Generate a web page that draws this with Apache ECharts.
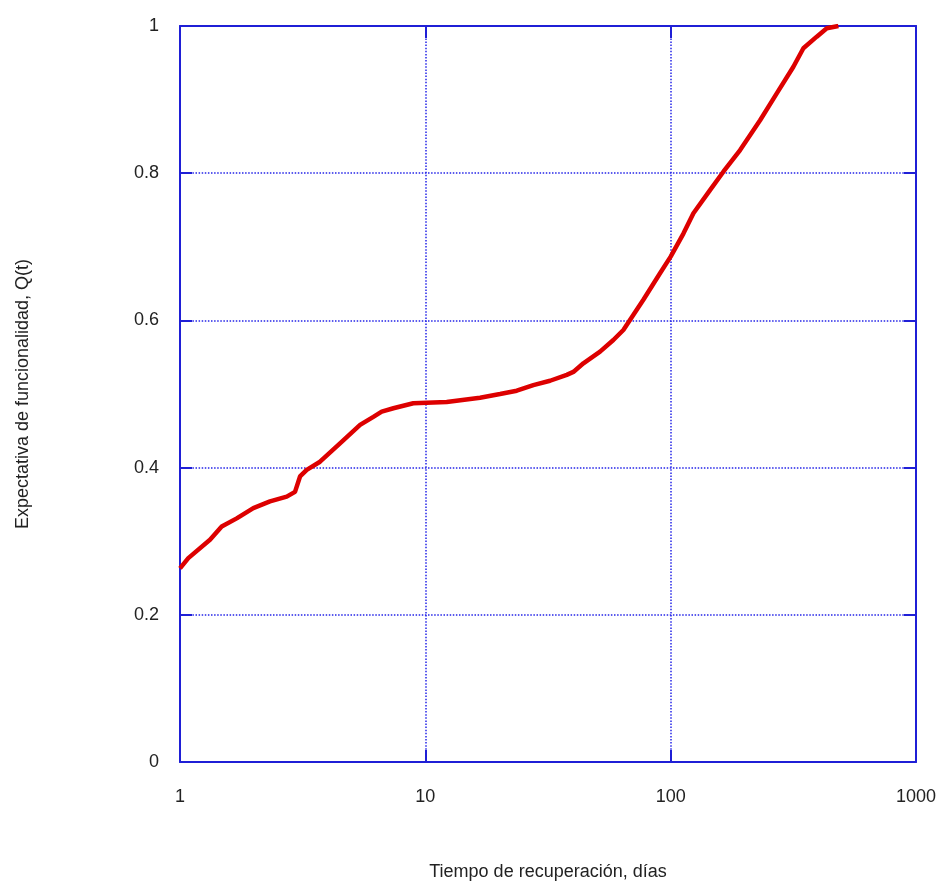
<!DOCTYPE html>
<html>
<head>
<meta charset="utf-8">
<script src="https://cdn.jsdelivr.net/npm/echarts@6/dist/echarts.min.js"></script>
<style>
  html, body { margin: 0; padding: 0; background: #fff; }
  #chart { width: 946px; height: 886px; }
</style>
</head>
<body>
<div id="chart"></div>
<script>
// Recovery time (days) and expected functionality Q(t)
const recoveryDays = [
  1.000, 1.081, 1.325, 1.479, 1.703, 1.990, 2.327, 2.723, 2.943, 3.085,
  3.285, 3.722, 4.49, 5.42, 6.14, 6.64, 7.41, 8.93, 12.22, 16.71,
  20.16, 23.59, 27.56, 32.24, 37.71, 40.12, 44.08, 51.55, 58.4, 64.15,
  77.4, 90.5, 100, 112.7, 123.8, 144.7, 164, 191.9, 231.5, 270.7,
  316.4, 347.5, 394, 432.9, 482.8
];
const functionality = [
  0.263, 0.277, 0.302, 0.320, 0.331, 0.345, 0.354, 0.3605, 0.367, 0.388,
  0.397, 0.408, 0.433, 0.458, 0.469, 0.476, 0.4806, 0.4874, 0.489, 0.495,
  0.500, 0.5045, 0.512, 0.518, 0.526, 0.530, 0.5417, 0.5575, 0.5734, 0.587,
  0.628, 0.664, 0.6866, 0.718, 0.7455, 0.777, 0.802, 0.8315, 0.872, 0.9085,
  0.9447, 0.9697, 0.9855, 0.9969, 1.0
];
const xTicks = [1, 10, 100, 1000];
const yTicks = [0, 0.2, 0.4, 0.6, 0.8, 1];

const xTitle = 'Tiempo de recuperación, días';
const yTitle = 'Expectativa de funcionalidad, Q(t)';

const frameColor = '#1f1fd6';
const gridColor = '#2424e8';
const font = 'Liberation Sans, Arial, sans-serif';

const seriesData = recoveryDays.map((d, i) => [d, functionality[i]]);

const labelStyle = { color: '#222', fontSize: 18, fontFamily: font };
const tickStyle = { show: true, inside: true, length: 12, lineStyle: { color: frameColor, width: 2 } };
const lineStyle = { show: true, onZero: false, lineStyle: { color: frameColor, width: 2 } };
const splitStyle = { show: true, lineStyle: { color: gridColor, width: 1.5, type: [1.5, 1.6] } };

const chart = echarts.init(document.getElementById('chart'), null, { renderer: 'canvas' });
chart.setOption({
  backgroundColor: '#fff',
  animation: false,
  grid: { left: 180, top: 26, width: 736, height: 736, containLabel: false },
  xAxis: [
    {
      type: 'log', logBase: 10, min: xTicks[0], max: xTicks[xTicks.length - 1],
      position: 'bottom',
      axisLine: lineStyle,
      axisTick: tickStyle,
      minorTick: { show: false },
      splitLine: splitStyle,
      axisLabel: Object.assign({ margin: 26, formatter: v => String(Math.round(v)) }, labelStyle),
      name: xTitle, nameLocation: 'middle', nameGap: 101,
      nameTextStyle: { color: '#222', fontSize: 18, fontFamily: font }
    },
    {
      type: 'log', logBase: 10, min: xTicks[0], max: xTicks[xTicks.length - 1],
      position: 'top',
      axisLine: lineStyle,
      axisTick: tickStyle,
      splitLine: { show: false },
      axisLabel: { show: false }
    }
  ],
  yAxis: [
    {
      type: 'value', min: yTicks[0], max: yTicks[yTicks.length - 1], interval: 0.2,
      position: 'left',
      axisLine: lineStyle,
      axisTick: tickStyle,
      splitLine: splitStyle,
      axisLabel: Object.assign({ margin: 21 }, labelStyle),
      name: yTitle, nameLocation: 'middle', nameGap: 148, nameRotate: 90,
      nameTextStyle: { color: '#222', fontSize: 18, fontFamily: font }
    },
    {
      type: 'value', min: yTicks[0], max: yTicks[yTicks.length - 1], interval: 0.2,
      position: 'right',
      axisLine: lineStyle,
      axisTick: tickStyle,
      splitLine: { show: false },
      axisLabel: { show: false }
    }
  ],
  series: [{
    type: 'line',
    xAxisIndex: 0, yAxisIndex: 0,
    data: seriesData,
    showSymbol: false,
    smooth: false,
    lineStyle: { color: '#dd0000', width: 4.5 },
    z: 5
  }]
});
</script>
</body>
</html>
